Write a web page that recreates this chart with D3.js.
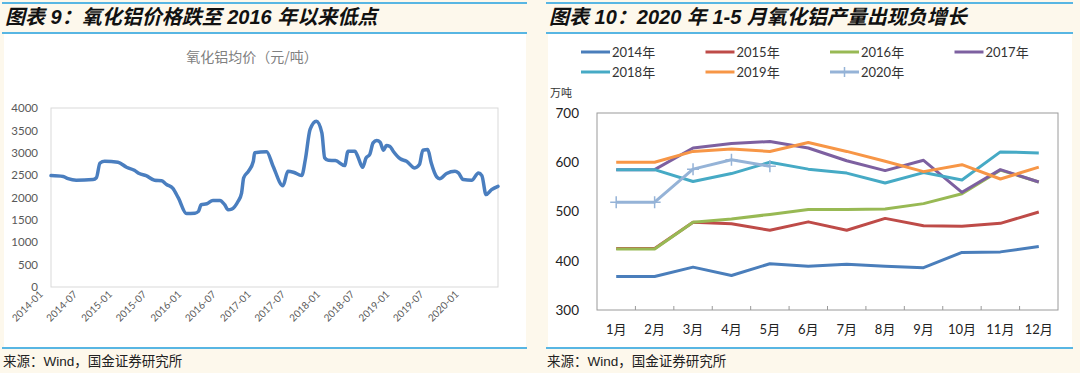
<!DOCTYPE html>
<html>
<head>
<meta charset="utf-8">
<script src="https://cdn.jsdelivr.net/npm/d3@7"></script>
<style>
  body { margin: 0; background: #fdf8ec; }
  svg { display: block; }
</style>
</head>
<body>
<svg id="chart" width="1080" height="373"></svg>
<script>
// ---- data: left chart (alumina average price, yuan/t) ----
const priceDates = ["2014-01-01","2014-03-06","2014-04-01","2014-05-14","2014-08-10","2014-08-28","2014-09-16","2014-10-11","2014-12-20",
  "2015-02-03","2015-03-16","2015-04-11","2015-05-17","2015-07-01","2015-08-07","2015-09-02","2015-10-04","2015-11-03","2015-12-16",
  "2016-01-29","2016-02-17","2016-03-02","2016-04-01","2016-05-03","2016-06-09","2016-07-04","2016-07-22","2016-08-10","2016-09-12",
  "2016-10-01","2016-10-12","2016-11-06","2016-12-02","2016-12-09","2017-02-10","2017-03-16","2017-05-07","2017-06-02","2017-07-01",
  "2017-08-14","2017-09-02","2017-09-27","2017-10-30","2017-11-28","2017-12-13","2018-01-01","2018-02-07","2018-03-28","2018-04-15",
  "2018-05-21","2018-06-05","2018-07-01","2018-07-19","2018-08-07","2018-08-25","2018-09-13","2018-10-01","2018-10-19","2018-11-03",
  "2018-11-21","2018-12-09","2019-01-15","2019-02-17","2019-04-01","2019-04-26","2019-05-14","2019-06-09","2019-06-27","2019-07-26",
  "2019-08-10","2019-09-16","2019-10-30","2019-11-17","2019-12-13","2020-01-26","2020-03-02","2020-03-20","2020-04-11","2020-05-10","2020-06-13"];
const priceValues = [2490,2470,2420,2385,2400,2440,2770,2810,2790,
  2675,2610,2535,2490,2385,2375,2290,2210,1990,1640,
  1650,1690,1840,1860,1935,1935,1840,1725,1740,1910,
  2100,2440,2585,2810,3000,3020,2700,2260,2585,2565,
  2490,2850,3520,3705,3445,2885,2830,2825,2715,3035,
  3035,2920,2675,2885,2960,3220,3275,3235,3055,3160,
  3145,3035,2865,2810,2660,2735,3055,3070,2775,2460,
  2420,2535,2585,2550,2400,2385,2550,2490,2065,2175,2250];
const priceTicks = [0,500,1000,1500,2000,2500,3000,3500,4000];
const dateTicks = ["2014-01","2014-07","2015-01","2015-07","2016-01","2016-07","2017-01","2017-07","2018-01","2018-07","2019-01","2019-07","2020-01"];

// ---- data: right chart (alumina output, 10k t) ----
const months = ["1月","2月","3月","4月","5月","6月","7月","8月","9月","10月","11月","12月"];
const yearNames = ["2014年","2015年","2016年","2017年","2018年","2019年","2020年"];
const out2014 = [368,368,387,370,394,389,393,389,386,417,418,429];
const out2015 = [425,425,478,475,462,479,462,486,471,470,476,499];
const out2016 = [424,424,478,485,494,504,504,505,516,536,584,560];
const out2017 = [585,585,629,638,642,629,603,583,604,539,585,560];
const out2018 = [585,585,561,577,600,586,578,558,579,564,621,619];
const out2019 = [600,600,622,627,622,640,622,602,581,595,566,590];
const out2020 = [519,519,586,605,592];
const outputTicks = [300,400,500,600,700];
const yearColors = ["#4a7ebb","#be4b48","#98b954","#7d60a0","#46aac5","#f79646","#95b3d7"];

const latin = "Lato, 'Noto Sans CJK SC', sans-serif";
const cjk = "'Noto Sans CJK SC', sans-serif";
const ruleBlue = "#21a0e0";

const svg = d3.select("#chart");

// panels, rules, titles, sources
const panels = [
  {x0: 4, x1: 526, title: "图表 9：氧化铝价格跌至 2016 年以来低点"},
  {x0: 548, x1: 1072, title: "图表 10：2020 年 1-5 月氧化铝产量出现负增长"}
];
panels.forEach(p => {
  svg.append("rect").attr("x", p.x0).attr("y", 34).attr("width", p.x1 - p.x0).attr("height", 313).attr("fill", "#fff");
  [3, 33, 348].forEach(y => {
    svg.append("line").attr("x1", p.x0 - 2).attr("x2", p.x1 + 1).attr("y1", y).attr("y2", y)
      .attr("stroke", ruleBlue).attr("stroke-width", 1.5);
  });
  svg.append("text").attr("x", p.x0 + 1).attr("y", 24)
    .attr("font-family", "'Liberation Sans', 'Noto Sans CJK SC', sans-serif")
    .attr("font-size", 20).attr("font-weight", "bold").attr("font-style", "italic")
    .attr("fill", "#111").text(p.title);
  svg.append("text").attr("x", p.x0 - 1).attr("y", 366)
    .attr("font-family", "'Liberation Sans', 'Noto Sans CJK SC', sans-serif")
    .attr("font-size", 13.5).attr("fill", "#222").text("来源：Wind，国金证券研究所");
});

// ---- left chart ----
const parseDay = d3.timeParse("%Y-%m-%d");
const parseMonth = d3.timeParse("%Y-%m");
const priceData = priceDates.map((d, i) => ({date: parseDay(d), value: priceValues[i]}));

const x1 = d3.scaleTime()
  .domain([parseDay("2014-01-01"), parseDay("2020-06-13")])
  .range([51, 498]);
const y1 = d3.scaleLinear().domain([0, 4000]).range([287, 108]);

svg.append("text").attr("x", 252).attr("y", 62).attr("text-anchor", "middle")
  .attr("font-family", cjk).attr("font-size", 14).attr("fill", "#808080")
  .text("氧化铝均价（元/吨）");

svg.append("rect").attr("x", 51).attr("y", 108).attr("width", 447).attr("height", 179)
  .attr("fill", "none").attr("stroke", "#d9d9d9");

const yAxis1 = svg.append("g").attr("transform", "translate(51,0)")
  .call(d3.axisLeft(y1).tickValues(priceTicks).tickFormat(d3.format("d")).tickSize(0).tickPadding(13));
yAxis1.select(".domain").remove();
yAxis1.selectAll("text").attr("font-family", latin).attr("font-size", 11.5).attr("fill", "#595959");

const xAxis1 = svg.append("g").attr("transform", "translate(0,287)")
  .call(d3.axisBottom(x1).tickValues(dateTicks.map(parseMonth)).tickFormat(d3.timeFormat("%Y-%m")).tickSize(0));
xAxis1.select(".domain").remove();
xAxis1.selectAll("text")
  .attr("y", 0).attr("dy", 0)
  .attr("text-anchor", "end")
  .attr("transform", "translate(-8,8) rotate(-45)")
  .attr("font-family", latin).attr("font-size", 10).attr("fill", "#595959");

svg.append("path").datum(priceData)
  .attr("fill", "none").attr("stroke", "#4a7ebf").attr("stroke-width", 3.5)
  .attr("stroke-linejoin", "round").attr("stroke-linecap", "round")
  .attr("d", d3.line().x(d => x1(d.date)).y(d => y1(d.value)).curve(d3.curveMonotoneX));

// ---- right chart ----
const outputs = [out2014, out2015, out2016, out2017, out2018, out2019, out2020];
const series = yearNames.map((name, i) => ({name, color: yearColors[i], values: outputs[i]}));

const x2 = d3.scaleBand().domain(months).range([597, 1058]);
const y2 = d3.scaleLinear().domain([300, 700]).range([310, 113]);
const cx = m => x2(m) + x2.bandwidth() / 2;

// legend
const legend = svg.append("g");
series.forEach((s, i) => {
  const lx = 581 + (i % 4) * 124.5;
  const ly = 52 + Math.floor(i / 4) * 20;
  legend.append("line").attr("x1", lx).attr("x2", lx + 29).attr("y1", ly).attr("y2", ly)
    .attr("stroke", s.color).attr("stroke-width", 3);
  if (s.name === "2020年") {
    legend.append("path").attr("d", `M${lx + 14.5 - 5},${ly}h10M${lx + 14.5},${ly - 5}v10`)
      .attr("stroke", s.color).attr("stroke-width", 1.5);
  }
  legend.append("text").attr("x", lx + 31).attr("y", ly + 4.5)
    .attr("font-family", latin).attr("font-size", 13).attr("fill", "#333").text(s.name);
});

svg.append("text").attr("x", 550).attr("y", 97)
  .attr("font-family", cjk).attr("font-size", 11).attr("fill", "#333").text("万吨");

svg.append("rect").attr("x", 597).attr("y", 113).attr("width", 461).attr("height", 197)
  .attr("fill", "none").attr("stroke", "#9a9a9a");

// inner category ticks
svg.append("g").selectAll("line").data(months.slice(1)).join("line")
  .attr("x1", d => x2(d)).attr("x2", d => x2(d)).attr("y1", 310).attr("y2", 306)
  .attr("stroke", "#9a9a9a");

const yAxis2 = svg.append("g").attr("transform", "translate(597,0)")
  .call(d3.axisLeft(y2).tickValues(outputTicks).tickSize(0).tickPadding(18));
yAxis2.select(".domain").remove();
yAxis2.selectAll("text").attr("font-family", latin).attr("font-size", 13.5).attr("fill", "#222");

const xAxis2 = svg.append("g").attr("transform", "translate(0,310)")
  .call(d3.axisBottom(x2).tickSize(0));
xAxis2.select(".domain").remove();
xAxis2.selectAll("text").attr("y", 24).attr("dy", 0)
  .attr("font-family", latin).attr("font-size", 13).attr("fill", "#222");

const line2 = d3.line().x((d, i) => cx(months[i])).y(d => y2(d));
series.forEach(s => {
  svg.append("path").datum(s.values)
    .attr("fill", "none").attr("stroke", s.color).attr("stroke-width", 3)
    .attr("stroke-linejoin", "round")
    .attr("d", line2);
});

// plus markers for 2020
const s2020 = series[6];
svg.append("g").selectAll("path").data(s2020.values).join("path")
  .attr("d", (d, i) => `M${cx(months[i]) - 6},${y2(d)}h12M${cx(months[i])},${y2(d) - 6}v12`)
  .attr("stroke", s2020.color).attr("stroke-width", 1.5);
</script>
</body>
</html>
